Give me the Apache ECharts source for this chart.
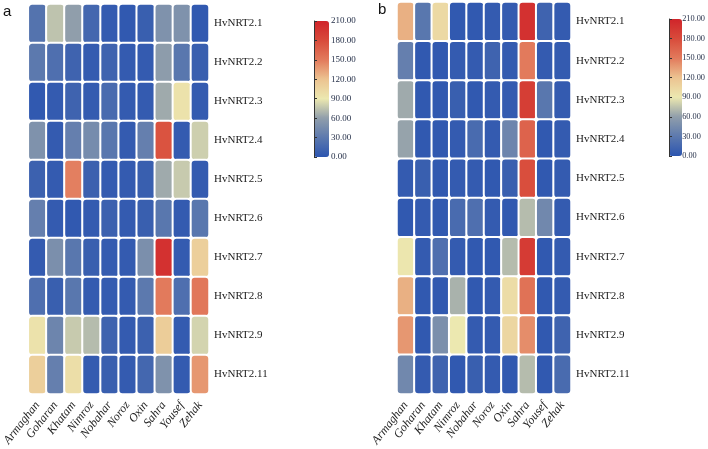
<!DOCTYPE html>
<html><head><meta charset="utf-8">
<script src="https://cdn.jsdelivr.net/npm/echarts@6/dist/echarts.min.js"></script>
<style>html,body{margin:0;padding:0;background:#fff}#c{width:708px;height:449px}</style>
</head><body><div id="c"></div>
<script>
const cultivars = ['Armaghan','Goharan','Khatam','Nimroz','Nobahar','Noroz','Oxin','Sahra','Yousef','Zehak'];
const genes = ['HvNRT2.1','HvNRT2.2','HvNRT2.3','HvNRT2.4','HvNRT2.5','HvNRT2.6','HvNRT2.7','HvNRT2.8','HvNRT2.9','HvNRT2.11'];
const scaleTicks = [0,30,60,90,120,150,180,210];
// panel a: rows = genes, columns = cultivars
const valuesA = [
  [25, 75, 60, 15, 5, 3, 8, 50, 50, 3],
  [30, 22, 12, 5, 12, 5, 5, 58, 28, 8],
  [3, 5, 12, 5, 18, 5, 5, 65, 95, 5],
  [50, 5, 35, 45, 28, 5, 35, 175, 5, 80],
  [10, 5, 148, 10, 5, 5, 8, 65, 78, 5],
  [35, 5, 3, 5, 10, 5, 8, 28, 5, 28],
  [5, 48, 28, 8, 5, 5, 48, 200, 5, 110],
  [22, 8, 28, 5, 5, 5, 30, 150, 22, 152],
  [95, 40, 78, 72, 12, 5, 10, 112, 5, 82],
  [110, 35, 98, 5, 8, 5, 15, 50, 5, 138]
];
// panel b
const valuesB = [
  [128, 28, 102, 3, 3, 5, 5, 200, 12, 5],
  [35, 3, 3, 5, 5, 12, 5, 150, 5, 5],
  [65, 3, 3, 8, 3, 5, 5, 190, 28, 5],
  [62, 3, 3, 5, 18, 5, 40, 165, 3, 5],
  [5, 8, 3, 5, 5, 3, 8, 178, 3, 5],
  [3, 5, 3, 18, 22, 5, 3, 72, 42, 5],
  [92, 5, 22, 5, 3, 3, 72, 192, 3, 5],
  [128, 3, 3, 68, 3, 5, 100, 155, 3, 5],
  [138, 3, 48, 90, 5, 5, 105, 142, 3, 12],
  [42, 5, 12, 3, 8, 5, 3, 72, 3, 18]
];

function toData(vals){
  const d=[];
  vals.forEach((row,r)=>row.forEach((v,c)=>d.push([c,r,v])));
  return d;
}
const palette = ['#2c55b0','#5c79ae','#909eab','#ece8b0','#ecc391','#e27a5c','#d84b3b','#d0242a'];
const serif = '"Liberation Serif","DejaVu Serif",serif';

function heatAxes(gi){
  return {
    x:{type:'category',gridIndex:gi,data:cultivars,axisLine:{show:false},axisTick:{show:false},splitArea:{show:false},
       axisLabel:{rotate:52,fontFamily:serif,fontStyle:'italic',fontSize:12,color:'#222',margin:9,interval:0}},
    y:{type:'category',gridIndex:gi,data:genes,inverse:true,position:'right',axisLine:{show:false},axisTick:{show:false},
       axisLabel:{fontFamily:serif,fontSize:11,color:'#222',margin:5,interval:0}}
  };
}
const ha=heatAxes(0), hb=heatAxes(1);
function barAxes(gi,fs){
  return {
    x:{type:'value',gridIndex:gi,show:false,min:0,max:1},
    y:{type:'value',gridIndex:gi,min:0,max:210,interval:30,position:'right',z:10,
       axisLine:{show:true,lineStyle:{color:'#333',width:1}},axisTick:{show:true,length:3,lineStyle:{color:'#333'}},
       splitLine:{show:false},
       axisLabel:{formatter:v=>v.toFixed(2),fontFamily:serif,fontSize:fs,color:'#1f2a44',margin:2,align:'left',
         hideOverlap:false}}
  };
}
const ba=barAxes(2,9), bb=barAxes(3,8.3);

const option={
  backgroundColor:'#fff',
  animation:false,
  graphic:[
    {type:'text',left:3,top:4,style:{text:'a',font:'15px "Liberation Sans",Arial,sans-serif',fill:'#111'}},
    {type:'text',left:378,top:2,style:{text:'b',font:'15px "Liberation Sans",Arial,sans-serif',fill:'#111'}}
  ],
  grid:[
    {left:20,top:4,width:189,height:390},
    {left:397,top:2,width:174,height:394},
    {left:314,top:21,width:15,height:136},
    {left:669,top:19,width:13,height:137}
  ],
  xAxis:[ha.x,hb.x,ba.x,bb.x],
  yAxis:[ha.y,hb.y,ba.y,bb.y],
  visualMap:[
    {type:'continuous',min:0,max:210,seriesIndex:0,calculable:false,showLabel:false,text:null,z:1,
     left:314,top:21,itemWidth:15,itemHeight:136,padding:0,inRange:{color:palette}},
    {type:'continuous',min:0,max:210,seriesIndex:1,calculable:false,showLabel:false,text:null,z:1,
     left:669,top:19,itemWidth:13,itemHeight:137,padding:0,inRange:{color:palette}}
  ],
  series:[
    {type:'heatmap',xAxisIndex:0,yAxisIndex:0,data:toData(valuesA),
     itemStyle:{borderColor:'#fff',borderWidth:2,borderRadius:4}},
    {type:'heatmap',xAxisIndex:1,yAxisIndex:1,data:toData(valuesB),
     itemStyle:{borderColor:'#fff',borderWidth:2,borderRadius:4}}
  ]
};
const chart=echarts.init(document.getElementById('c'),null,{renderer:'canvas'});
chart.setOption(option);
</script></body></html>
